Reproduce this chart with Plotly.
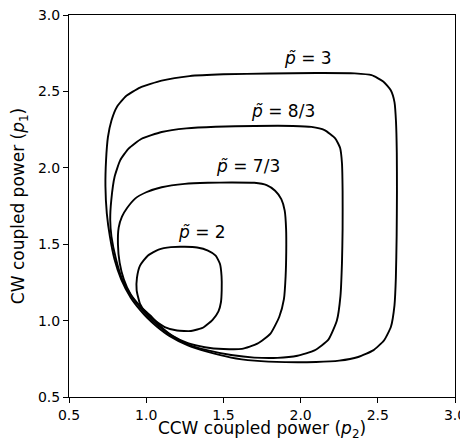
import plotly.graph_objects as go

# Curve p~ = 3 (clockwise from the top)
p3_x = [1.80, 2.10, 2.35, 2.46, 2.535, 2.584, 2.608, 2.618, 2.623, 2.624, 2.622, 2.617, 2.608,
        2.585, 2.54, 2.47, 2.373, 2.25, 2.10, 1.90, 1.70, 1.55, 1.40, 1.27, 1.15, 1.07, 1.005,
        0.96, 0.90, 0.838, 0.795, 0.765, 0.745, 0.736, 0.740, 0.752, 0.775, 0.811, 0.87, 0.96,
        1.10, 1.28, 1.50, 1.80]
p3_y = [2.617, 2.620, 2.618, 2.606, 2.565, 2.507, 2.43, 2.30, 2.10, 1.85, 1.55, 1.28, 1.10,
        0.96, 0.87, 0.805, 0.762, 0.738, 0.729, 0.728, 0.738, 0.758, 0.795, 0.838, 0.90, 0.96, 1.02,
        1.07, 1.15, 1.27, 1.40, 1.55, 1.70, 1.88, 2.05, 2.20, 2.31, 2.40, 2.47, 2.525,
        2.57, 2.600, 2.612, 2.617]

# Curve p~ = 8/3
p83_x = [1.70, 1.95, 2.07, 2.155, 2.224, 2.256, 2.268, 2.272, 2.272, 2.268, 2.258, 2.235, 2.18,
         2.09, 1.98, 1.85, 1.70, 1.55, 1.40, 1.27, 1.16, 1.08, 1.015, 0.965, 0.905, 0.845, 0.805,
         0.775, 0.767, 0.774, 0.795, 0.832, 0.886, 0.97, 1.10, 1.26, 1.45, 1.70]
p83_y = [2.274, 2.274, 2.268, 2.247, 2.193, 2.13, 2.03, 1.85, 1.60, 1.38, 1.16, 1.00, 0.875,
         0.805, 0.770, 0.756, 0.758, 0.775, 0.805, 0.845, 0.905, 0.965, 1.025, 1.08, 1.16, 1.27, 1.40,
         1.55, 1.66, 1.79, 1.94, 2.05, 2.126, 2.19, 2.234, 2.258, 2.269, 2.274]

# Curve p~ = 7/3
p73_x = [1.55, 1.70, 1.78, 1.835, 1.875, 1.897, 1.906, 1.907, 1.903, 1.892, 1.862, 1.805, 1.72,
         1.62, 1.50, 1.38, 1.27, 1.17, 1.09, 1.03, 0.965, 0.90, 0.855, 0.828, 0.817, 0.822,
         0.843, 0.875, 0.93, 1.00, 1.10, 1.25, 1.40, 1.55]
p73_y = [1.904, 1.902, 1.887, 1.85, 1.795, 1.72, 1.60, 1.45, 1.29, 1.14, 1.025, 0.915, 0.849,
         0.815, 0.814, 0.826, 0.852, 0.90, 0.965, 1.03, 1.09, 1.17, 1.27, 1.38, 1.50, 1.61,
         1.68, 1.735, 1.80, 1.84, 1.873, 1.895, 1.902, 1.904]

# Curve p~ = 2
p2_x = [1.25, 1.33, 1.40, 1.45, 1.478, 1.488, 1.489, 1.484, 1.468, 1.43, 1.37, 1.29, 1.20,
        1.12, 1.05, 1.00, 0.96, 0.938, 0.940, 0.96, 1.01, 1.08, 1.16, 1.25]
p2_y = [1.483, 1.478, 1.458, 1.425, 1.37, 1.29, 1.20, 1.12, 1.06, 1.005, 0.955, 0.932, 0.935,
        0.958, 1.005, 1.05, 1.11, 1.20, 1.28, 1.36, 1.425, 1.465, 1.481, 1.483]

labels = ["<i>p̃</i> = 3", "<i>p̃</i> = 8/3", "<i>p̃</i> = 7/3", "<i>p̃</i> = 2"]
label_x = [2.05, 1.885, 1.662, 1.361]
label_y = [2.72, 2.37, 2.015, 1.58]

tick_vals = [0.5, 1.0, 1.5, 2.0, 2.5, 3.0]
tick_text = ["0.5", "1.0", "1.5", "2.0", "2.5", "3.0"]

FONT = "DejaVu Sans"

fig = go.Figure()
for xs, ys in [(p3_x, p3_y), (p83_x, p83_y), (p73_x, p73_y), (p2_x, p2_y)]:
    fig.add_trace(go.Scatter(x=xs, y=ys, mode="lines",
                             line=dict(color="black", width=1.9, shape="spline", smoothing=0.5),
                             showlegend=False, hoverinfo="skip"))

for t, x, y in zip(labels, label_x, label_y):
    fig.add_annotation(x=x, y=y, text=t, showarrow=False, xanchor="center", yanchor="middle",
                       font=dict(family=FONT, size=17, color="black"))

axis_common = dict(range=[0.5, 3.0], tickmode="array", tickvals=tick_vals, ticktext=tick_text,
                   showgrid=False, zeroline=False, showline=True, linecolor="black", linewidth=1,
                   mirror=True, ticks="outside", ticklen=5, tickwidth=1, tickcolor="black",
                   automargin=False, ticklabeloverflow="allow",
                   tickfont=dict(family=FONT, size=14, color="black"))

# The page body adds an 8 px offset, so the figure is sized to the visible area.
fig.update_layout(
    width=460, height=433,
    margin=dict(l=61, r=13, t=7, b=44),
    paper_bgcolor="white", plot_bgcolor="white",
    xaxis=dict(**axis_common,
               title=dict(text="CCW coupled power (<i>p</i><sub>2</sub>)",
                          font=dict(family=FONT, size=17, color="black"), standoff=5)),
    yaxis=dict(**axis_common,
               title=dict(text="CW coupled power (<i>p</i><sub>1</sub>)",
                          font=dict(family=FONT, size=17, color="black"), standoff=10)),
)

fig.write_html("out.html")
